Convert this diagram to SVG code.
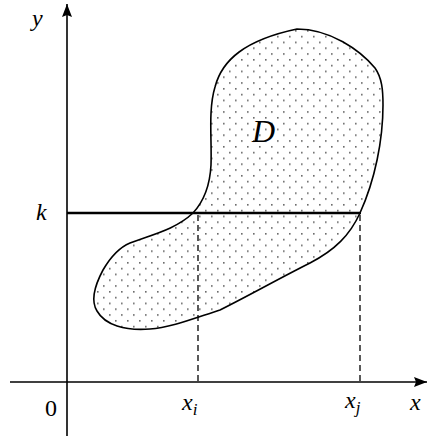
<svg xmlns="http://www.w3.org/2000/svg" width="428" height="437" viewBox="0 0 428 437">
<style>
.m{font-family:"Liberation Serif","DejaVu Serif",serif;font-style:italic;fill:#000}
.n{font-family:"Liberation Serif","DejaVu Serif",serif;fill:#000}
.ax{stroke:#000;stroke-width:1.6;fill:none}
.dash{stroke:#000;stroke-width:1.3;stroke-dasharray:6,4;fill:none}
</style>
<defs>
<pattern id="dots" patternUnits="userSpaceOnUse" width="12" height="11.6">
<rect x="1" y="1" width="1.6" height="1.6" fill="#666"/>
<rect x="7" y="6.8" width="1.6" height="1.6" fill="#666"/>
</pattern>
<marker id="arr" markerWidth="14" markerHeight="10" refX="13" refY="5" orient="auto" markerUnits="userSpaceOnUse">
<path d="M0,0 L13,5 L0,10 L2,5 Z" fill="#000"/>
</marker>
</defs>
<g id="region-D">
<path d="M297,29 C330,29 360,50 375,68 C382,78 383,90 383,105 C383,140 375,180 360,213 C350,235 335,250 310,263 C280,278 250,295 220,310 C195,318 170,328 150,329 C125,331 105,325 97,311 C90,300 95,285 103,270 C110,258 118,248 130,243 C150,235 175,230 193,213 C205,200 210,185 211,165 C212,140 208,110 215,87 C222,60 245,40 297,29 Z" fill="url(#dots)" stroke="#000" stroke-width="1.6"/>
<text class="m" x="252" y="142" font-size="32">D</text>
</g>
<g id="connectors">
<line class="ax" x1="10" y1="382" x2="427" y2="382" marker-end="url(#arr)"/>
<line class="ax" x1="67" y1="436" x2="67" y2="4" marker-end="url(#arr)"/>
<line x1="67" y1="213" x2="361" y2="213" stroke="#000" stroke-width="2.6"/>
<line class="dash" x1="198" y1="215" x2="198" y2="382"/>
<line class="dash" x1="360" y1="215" x2="360" y2="382"/>
</g>
<g id="labels">
<text class="m" x="32" y="26" font-size="24">y</text>
<text class="m" x="36" y="220" font-size="24">k</text>
<text class="n" x="45" y="416" font-size="24">0</text>
<text class="m" x="182" y="410" font-size="24">x<tspan font-size="17" dy="5">i</tspan></text>
<text class="m" x="345" y="408" font-size="24">x<tspan font-size="17" dy="5">j</tspan></text>
<text class="m" x="410" y="410" font-size="24">x</text>
</g>
</svg>
